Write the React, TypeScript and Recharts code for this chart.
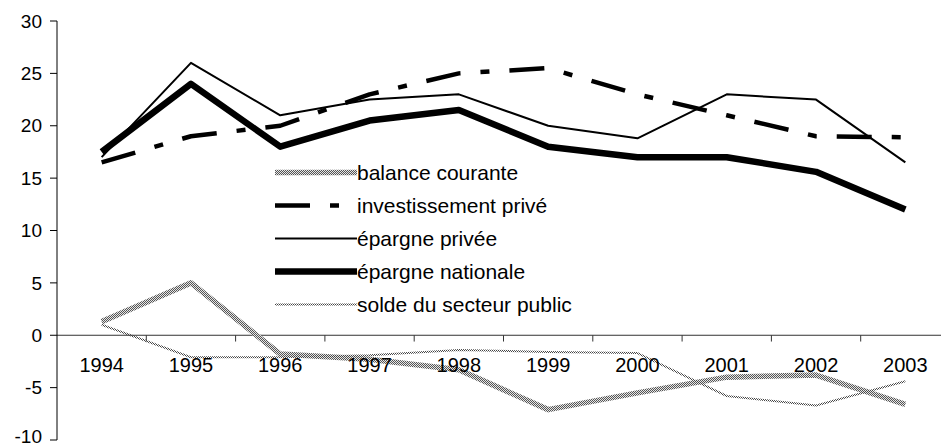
import React from 'react';
import { LineChart, Line, XAxis, YAxis, ReferenceLine, ReferenceDot, Legend } from 'recharts';

const years = [1994, 1995, 1996, 1997, 1998, 1999, 2000, 2001, 2002, 2003];
const balanceCourante = [1.3, 5.0, -1.8, -2.3, -3.3, -7.1, -5.5, -4.0, -3.8, -6.6];
const investissementPrive = [16.5, 19, 20, 23, 25, 25.5, 23, 21, 19, 18.9];
const epargnePrivee = [17, 26, 21, 22.5, 23, 20, 18.8, 23, 22.5, 16.5];
const epargneNationale = [17.5, 24, 18, 20.5, 21.5, 18, 17, 17, 15.6, 12];
const soldePublic = [1.0, -2.1, -2.1, -1.9, -1.4, -1.6, -1.7, -5.8, -6.7, -4.4];
const yTicks = [-10, -5, 0, 5, 10, 15, 20, 25, 30];
const seriesNames = [
  'balance courante',
  'investissement privé',
  'épargne privée',
  'épargne nationale',
  'solde du secteur public',
];

const data = years.map((year, i) => ({
  year,
  balance: balanceCourante[i],
  invest: investissementPrive[i],
  epPrivee: epargnePrivee[i],
  epNat: epargneNationale[i],
  solde: soldePublic[i],
}));

const boundaries = years.slice(1).map((y) => y - 0.5);
const yMin = yTicks[0];

const seriesStyles = [
  { key: 'balance', stroke: 'url(#stipple)', strokeWidth: 5.5 },
  { key: 'invest', stroke: '#000', strokeWidth: 4.5, strokeDasharray: '35 20 9 20' },
  { key: 'epPrivee', stroke: '#000', strokeWidth: 2 },
  { key: 'epNat', stroke: '#000', strokeWidth: 6.5 },
  { key: 'solde', stroke: 'url(#stippleLight)', strokeWidth: 2 },
];

const YTick = (props: any) => {
  const { x, y, payload } = props;
  const lift = payload.value === yMin ? 4 : 0;
  return (
    <text x={x} y={y - lift} dy="0.355em" textAnchor="end" fill="#000" fontSize={19}>
      {payload.value}
    </text>
  );
};

const LegendContent = () => (
  <div style={{ display: 'flex', flexDirection: 'column' }}>
    {seriesStyles.map((s, i) => (
      <div key={s.key} style={{ display: 'flex', alignItems: 'center', height: 33 }}>
        <svg width={82} height={33} style={{ display: 'block' }}>
          <line
            x1={0}
            x2={82}
            y1={16.5}
            y2={16.5}
            stroke={s.stroke}
            strokeWidth={s.strokeWidth}
            strokeDasharray={s.strokeDasharray}
          />
        </svg>
        <span style={{ fontSize: 21, color: '#000', whiteSpace: 'nowrap' }}>{seriesNames[i]}</span>
      </div>
    ))}
  </div>
);

export default function App() {
  return (
    <div
      style={{
        position: 'absolute',
        left: 0,
        top: 0,
        width: 941,
        height: 447,
        overflow: 'hidden',
        background: '#fff',
        fontFamily: '"Liberation Sans", Arial, sans-serif',
      }}
    >
      <LineChart width={960} height={447} data={data} margin={{ top: 21, right: 10, bottom: 7, left: 0 }}>
        <defs>
          <pattern id="stipple" width="2" height="2" patternUnits="userSpaceOnUse">
            <rect x="0" y="0" width="2" height="2" fill="#e6e6e6" />
            <rect x="0" y="0" width="1" height="1" fill="#555" />
            <rect x="1" y="1" width="1" height="1" fill="#555" />
          </pattern>
          <pattern id="stippleLight" width="2" height="2" patternUnits="userSpaceOnUse">
            <rect x="0" y="0" width="1" height="1" fill="#444" />
            <rect x="1" y="1" width="1" height="1" fill="#444" />
          </pattern>
        </defs>
        <XAxis dataKey="year" type="number" domain={[1993.5, 2003.5]} hide />
        <YAxis
          domain={[-10, 30]}
          ticks={yTicks}
          interval={0}
          width={57}
          tickSize={7}
          tickMargin={8}
          axisLine={{ stroke: '#000' }}
          tickLine={{ stroke: '#000' }}
          tick={<YTick />}
        />
        <ReferenceLine y={0} stroke="#333" />
        {boundaries.map((b) => (
          <ReferenceLine
            key={'t' + b}
            segment={[
              { x: b, y: 0 },
              { x: b, y: -0.6 },
            ]}
            stroke="#333"
          />
        ))}
        {years.map((yr) => (
          <ReferenceDot
            key={'l' + yr}
            x={yr}
            y={0}
            r={0}
            fill="none"
            stroke="none"
            label={{ value: String(yr), position: 'bottom', offset: 23, fontSize: 20, fill: '#000' }}
          />
        ))}
        {seriesStyles.map((s, i) => (
          <Line
            key={s.key}
            dataKey={s.key}
            name={seriesNames[i]}
            type="linear"
            stroke={s.stroke}
            strokeWidth={s.strokeWidth}
            strokeDasharray={s.strokeDasharray}
            strokeLinejoin="round"
            dot={false}
            activeDot={false}
            isAnimationActive={false}
          />
        ))}
        <Legend
          layout="vertical"
          align="center"
          verticalAlign="middle"
          content={<LegendContent />}
          wrapperStyle={{ left: 275, top: 156, width: 320, height: 170 }}
        />
      </LineChart>
    </div>
  );
}
